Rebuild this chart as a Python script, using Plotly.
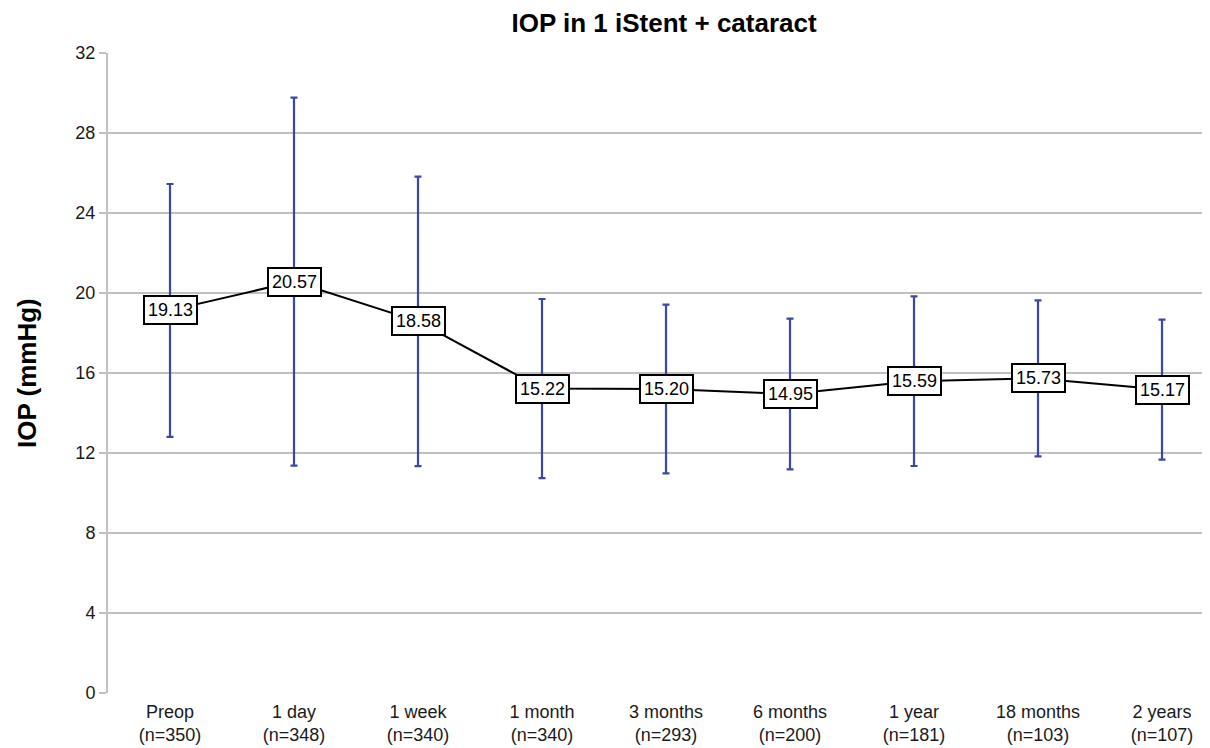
import plotly.graph_objects as go

categories = ["Preop", "1 day", "1 week", "1 month", "3 months",
              "6 months", "1 year", "18 months", "2 years"]
n_labels = ["(n=350)", "(n=348)", "(n=340)", "(n=340)", "(n=293)",
            "(n=200)", "(n=181)", "(n=103)", "(n=107)"]
iop_mean = [19.13, 20.57, 18.58, 15.22, 15.20, 14.95, 15.59, 15.73, 15.17]
iop_sd = [6.32, 9.20, 7.24, 4.48, 4.22, 3.77, 4.24, 3.90, 3.50]
y_ticks = [0, 4, 8, 12, 16, 20, 24, 28, 32]

FONT = "Liberation Sans, Arial, sans-serif"
x_idx = list(range(len(categories)))
tick_text = [f"{c}<br>{n}" for c, n in zip(categories, n_labels)]

fig = go.Figure()
fig.add_trace(go.Scatter(
    x=x_idx, y=iop_mean, mode="lines",
    line=dict(color="black", width=2),
    error_y=dict(type="data", array=iop_sd, visible=True,
                 color="#3c46a6", thickness=2.2, width=3.5),
    showlegend=False, hoverinfo="skip",
))

for xi, v in zip(x_idx, iop_mean):
    fig.add_annotation(
        x=xi, y=v, text=f"{v:.2f}", showarrow=False,
        font=dict(family=FONT, size=18, color="black"),
        bgcolor="white", bordercolor="black", borderwidth=2, borderpad=3,
    )

# y-axis title
fig.add_annotation(
    xref="paper", yref="paper", x=-0.0735, y=0.5,
    xanchor="center", yanchor="middle", textangle=-90,
    text="<b>IOP (mmHg)</b>", showarrow=False,
    font=dict(family=FONT, size=26, color="black"),
)

fig.update_layout(
    width=1202, height=740,
    margin=dict(l=100, r=0, t=45, b=55),
    paper_bgcolor="white", plot_bgcolor="white",
    font=dict(family=FONT, size=18, color="#1a1a1a"),
    title=dict(text="<b>IOP in 1 iStent + cataract</b>", x=0.5458,
               xref="container", xanchor="center",
               y=0.9797, yanchor="middle",
               font=dict(family=FONT, size=26, color="black")),
)
fig.update_xaxes(
    range=[-0.5, 8.387], tickvals=x_idx, ticktext=tick_text,
    showgrid=False, showline=False, zeroline=False, ticks="",
    ticklabelstandoff=6,
    tickfont=dict(family=FONT, size=18, color="#1a1a1a"), fixedrange=True,
)
fig.update_yaxes(
    range=[0, 32], tickvals=y_ticks, showgrid=True, gridcolor="#c0c0c0",
    gridwidth=2, zeroline=False, showline=True, linecolor="#c0c0c0",
    linewidth=2, ticks="outside", ticklen=7, tickcolor="#c0c0c0",
    tickwidth=1.5, tickfont=dict(family=FONT, size=18, color="#1a1a1a"),
)

fig.write_html("out.html")
